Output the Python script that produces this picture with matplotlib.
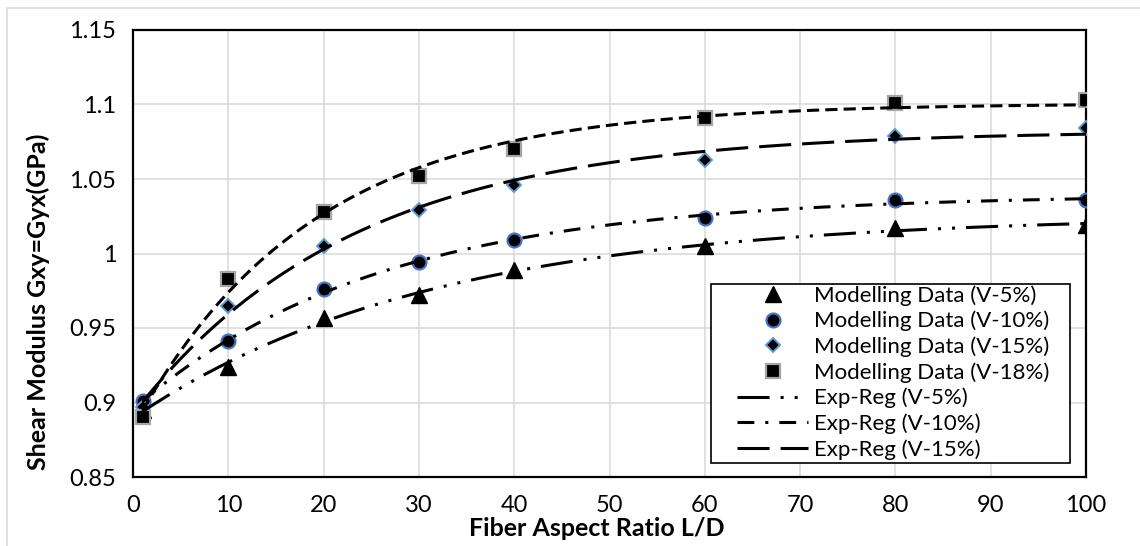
import numpy as np
import matplotlib
matplotlib.use("Agg")
import matplotlib.pyplot as plt
from matplotlib.lines import Line2D
from matplotlib.patches import Rectangle

# ---------------------------------
# DATA
# ---------------------------------
aspect_ratio = np.array([1, 10, 20, 30, 40, 60, 80, 100], dtype=float)

g_v5 = np.array([0.895, 0.924, 0.957, 0.972, 0.989, 1.005, 1.017, 1.019])
g_v10 = np.array([0.901, 0.941, 0.976, 0.994, 1.009, 1.024, 1.036, 1.036])
g_v15 = np.array([0.897, 0.965, 1.005, 1.029, 1.046, 1.063, 1.079, 1.084])
g_v18 = np.array([0.8905, 0.983, 1.028, 1.052, 1.070, 1.091, 1.101, 1.103])

series_labels = ["V-5%", "V-10%", "V-15%", "V-18%"]
x_ticks = np.arange(0, 101, 10)
y_ticks = [0.85, 0.9, 0.95, 1, 1.05, 1.1, 1.15]
y_tick_labels = ["0.85", "0.9", "0.95", "1", "1.05", "1.1", "1.15"]


# ---------------------------------
# EXPONENTIAL REGRESSION  y = a + b(1 - exp(-c x))
# ---------------------------------
def fit_exp(x, y):
    best = None
    for c in np.linspace(0.005, 0.4, 800):
        A = np.column_stack([np.ones_like(x), 1 - np.exp(-c * x)])
        coef = np.linalg.lstsq(A, y, rcond=None)[0]
        sse = ((A @ coef - y) ** 2).sum()
        if best is None or sse < best[0]:
            best = (sse, coef[0], coef[1], c)
    return best[1:]


x_fit = np.linspace(1, 100, 300)


def exp_curve(y):
    a, b, c = fit_exp(aspect_ratio, y)
    return a + b * (1 - np.exp(-c * x_fit))


# ---------------------------------
# STYLE
# ---------------------------------
plt.rcParams["font.family"] = ["Lato", "DejaVu Sans"]
LW = 2.2
tick_fs = 17
legend_fs = 16

style_v5 = (0, (10.5, 3.6, 1, 3.6, 1, 3.6))
style_v10 = (0, (5.5, 3.6, 1, 3.6))
style_v15 = (0, (10.5, 3.6))
style_v18 = (0, (4, 2))

tri = dict(marker="^", markersize=11, color="black")
circ = dict(marker="o", markersize=10, markerfacecolor="black",
            markeredgecolor="#4472C4", markeredgewidth=1.6)
diam = dict(marker="D", markersize=7, markerfacecolor="black",
            markeredgecolor="#5B9BD5", markeredgewidth=1.4)
sq = dict(marker="s", markersize=10, markerfacecolor="black",
          markeredgecolor="#A5A5A5", markeredgewidth=1.6)

fig = plt.figure(figsize=(11.4, 5.46), dpi=100)
ax = fig.add_axes([133 / 1140, 1 - 477 / 546, (1086 - 133) / 1140, (477 - 30) / 546])

# chart-area border
fig.patches.append(Rectangle((7 / 1140, -0.05), 1.05, 1 - 8 / 546 + 0.05,
                             transform=fig.transFigure, fill=False,
                             edgecolor="#D9D9D9", linewidth=1.2))

# ---------------------------------
# MODELLING DATA
# ---------------------------------
ax.plot(aspect_ratio, g_v5, linestyle="none", zorder=3, **tri)
ax.plot(aspect_ratio, g_v10, linestyle="none", zorder=3, **circ)
ax.plot(aspect_ratio, g_v15, linestyle="none", zorder=3, **diam)
ax.plot(aspect_ratio, g_v18, linestyle="none", zorder=3, **sq)

# ---------------------------------
# REGRESSION CURVES
# ---------------------------------
ax.plot(x_fit, exp_curve(g_v5), color="black", lw=LW, linestyle=style_v5, zorder=4)
ax.plot(x_fit, exp_curve(g_v10), color="black", lw=LW, linestyle=style_v10, zorder=4)
ax.plot(x_fit, exp_curve(g_v15), color="black", lw=LW, linestyle=style_v15, zorder=4)
ax.plot(x_fit, exp_curve(g_v18), color="black", lw=LW, linestyle=style_v18, zorder=4)

# ---------------------------------
# AXES
# ---------------------------------
ax.set_xlim(0, 100)
ax.set_ylim(0.85, 1.15)
ax.set_xticks(x_ticks)
ax.set_yticks(y_ticks)
ax.set_yticklabels(y_tick_labels)
ax.tick_params(length=0, labelsize=tick_fs, pad=12)
ax.tick_params(axis="x", pad=13)
ax.grid(True, color="#D9D9D9", linewidth=1.1)
ax.set_axisbelow(True)
for s in ax.spines.values():
    s.set_linewidth(1.6)
    s.set_color("black")

fig.text(597 / 1140, 1 - 529 / 546, "Fiber Aspect Ratio L/D", ha="center", va="center",
         fontsize=18, fontweight="bold")
fig.text(38 / 1140, 1 - 302 / 546, "Shear Modulus Gxy=Gyx(GPa)", ha="center", va="center",
         rotation=90, fontsize=18, fontweight="bold")

# ---------------------------------
# LEGEND
# ---------------------------------
handles = [
    Line2D([], [], linestyle="none", **tri),
    Line2D([], [], linestyle="none", **circ),
    Line2D([], [], linestyle="none", **diam),
    Line2D([], [], linestyle="none", **sq),
    Line2D([], [], color="black", lw=LW, linestyle=style_v5),
    Line2D([], [], color="black", lw=LW, linestyle=style_v10),
    Line2D([], [], color="black", lw=LW, linestyle=style_v15),
]
labels = [f"Modelling Data ({s})" for s in series_labels] + \
         [f"Exp-Reg ({s})" for s in series_labels[:3]]

ax.add_patch(Rectangle(((711 - 133) / 953, (477 - 463) / 447),
                       (1070 - 711) / 953, (463 - 284) / 447,
                       transform=ax.transAxes, facecolor="white", edgecolor="black",
                       linewidth=1.2, zorder=5))
leg = ax.legend(handles, labels, loc="upper left",
                bbox_to_anchor=((737 - 133) / 953, (477 - 285) / 447),
                frameon=False, fontsize=legend_fs, borderpad=0, borderaxespad=0,
                handlelength=3.2, handletextpad=0.27, labelspacing=0.23)
leg.set_zorder(6)

fig.savefig("out.png", dpi=100)
